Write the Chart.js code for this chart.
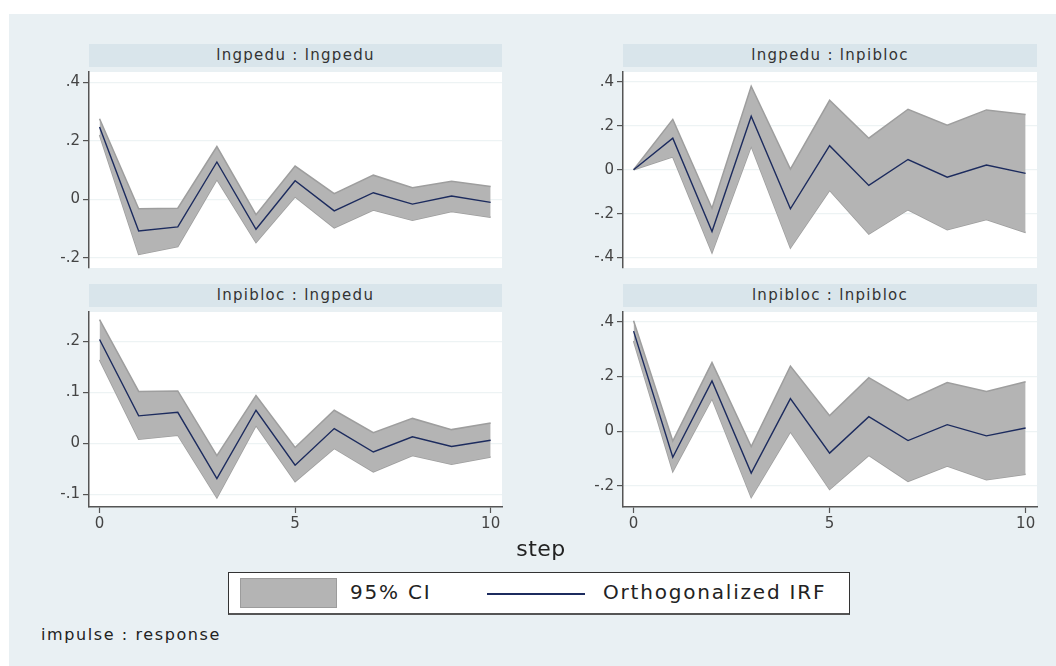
<!DOCTYPE html>
<html>
<head>
<meta charset="utf-8">
<script src="https://cdn.jsdelivr.net/npm/chart.js@4"></script>
<style>
  body { margin: 0; width: 1056px; height: 666px; background: #fff; position: relative; overflow: hidden;
         font-family: "DejaVu Sans", sans-serif; }
  #bg { position: absolute; left: 9px; top: 14px; right: 0; bottom: 0; background: #e9f0f3; }
  .band { position: absolute; height: 23px; background: #d9e5eb; color: #333; font-size: 15px;
          text-align: center; line-height: 23px; letter-spacing: 1.3px; }
  canvas { position: absolute; }
  #step { position: absolute; left: 0; width: 1082px; top: 536px; text-align: center; font-size: 22px;
          color: #222; letter-spacing: 0.5px; }
  #legend { position: absolute; left: 228px; top: 572px; width: 622px; height: 43px; background: #fff;
            border: 1px solid #333; border-bottom: 2px solid #555; box-sizing: border-box; }
  #legend .sw { position: absolute; left: 11px; top: 5px; width: 97px; height: 30px; background: #b4b4b4;
                border: 1px solid #9c9c9c; box-sizing: border-box; }
  #legend .ln { position: absolute; left: 258px; top: 20px; width: 98px; height: 2px; background: #1c2b5e; }
  #legend span { position: absolute; top: 7px; font-size: 20px; color: #222; letter-spacing: 1.8px; }
  #imp { position: absolute; left: 41px; top: 625px; font-size: 16px; color: #222; letter-spacing: 1.6px; }
</style>
</head>
<body>
<div id="bg"></div>

<div class="band" style="left:89px; top:44px; width:413px;">lngpedu : lngpedu</div>
<div class="band" style="left:623px; top:44px; width:414px;">lngpedu : lnpibloc</div>
<div class="band" style="left:89px; top:284px; width:413px;">lnpibloc : lngpedu</div>
<div class="band" style="left:623px; top:284px; width:414px;">lnpibloc : lnpibloc</div>

<canvas id="c1" style="left:0; top:60px;" width="520" height="220"></canvas>
<canvas id="c2" style="left:530px; top:60px;" width="520" height="220"></canvas>
<canvas id="c3" style="left:0; top:300px;" width="520" height="240"></canvas>
<canvas id="c4" style="left:530px; top:300px;" width="520" height="240"></canvas>

<div id="step">step</div>
<div id="legend">
  <div class="sw"></div>
  <span style="left:121px;">95% CI</span>
  <div class="ln"></div>
  <span style="left:374px;">Orthogonalized IRF</span>
</div>
<div id="imp">impulse : response</div>

<script>
const steps = [0, 1, 2, 3, 4, 5, 6, 7, 8, 9, 10];

// lngpedu : lngpedu
const irf1 = [0.248, -0.108, -0.094, 0.128, -0.102, 0.064, -0.039, 0.023, -0.016, 0.012, -0.010];
const up1  = [0.276, -0.032, -0.030, 0.181, -0.052, 0.114, 0.020, 0.083, 0.040, 0.062, 0.044];
const lo1  = [0.220, -0.188, -0.161, 0.068, -0.147, 0.009, -0.097, -0.036, -0.071, -0.041, -0.061];

// lngpedu : lnpibloc
const irf2 = [0.000, 0.144, -0.281, 0.244, -0.178, 0.110, -0.071, 0.047, -0.034, 0.022, -0.016];
const up2  = [0.000, 0.230, -0.175, 0.381, 0.003, 0.317, 0.144, 0.276, 0.203, 0.273, 0.252];
const lo2  = [0.000, 0.059, -0.378, 0.107, -0.356, -0.093, -0.293, -0.182, -0.273, -0.227, -0.286];

// lnpibloc : lngpedu
const irf3 = [0.204, 0.054, 0.061, -0.069, 0.065, -0.043, 0.029, -0.017, 0.013, -0.006, 0.006];
const up3  = [0.243, 0.102, 0.103, -0.024, 0.094, -0.008, 0.065, 0.021, 0.049, 0.027, 0.040];
const lo3  = [0.164, 0.008, 0.016, -0.107, 0.035, -0.075, -0.010, -0.056, -0.024, -0.041, -0.027];

// lnpibloc : lnpibloc
const irf4 = [0.366, -0.095, 0.184, -0.153, 0.119, -0.080, 0.053, -0.034, 0.024, -0.017, 0.012];
const up4  = [0.404, -0.036, 0.251, -0.056, 0.238, 0.057, 0.196, 0.113, 0.178, 0.145, 0.181];
const lo4  = [0.330, -0.147, 0.119, -0.242, -0.002, -0.213, -0.088, -0.183, -0.127, -0.177, -0.157];

const yTicks1 = [-0.2, 0, 0.2, 0.4];
const yTicks2 = [-0.4, -0.2, 0, 0.2, 0.4];
const yTicks3 = [-0.1, 0, 0.1, 0.2];
const yTicks4 = [-0.2, 0, 0.2, 0.4];
const xTicks = [0, 5, 10];

function fmt(v) {
    if (Math.abs(v) < 1e-9) return '0';
    let s = String(Math.round(v * 10) / 10);
    return s.replace('0.', '.');
}

function pts(arr) {
    return steps.map((s, i) => ({ x: s, y: arr[i] }));
}

function makeChart(id, irf, up, lo, yTicks, yMin, yMax, yWidth, rightPad, bottomRow) {
    const ctx = document.getElementById(id).getContext('2d');
    new Chart(ctx, {
        type: 'line',
        data: {
            datasets: [
                { data: pts(irf), borderColor: '#1c2b5e', borderWidth: 1.4, pointRadius: 0, fill: false, tension: 0 },
                { data: pts(up), borderColor: '#9e9e9e', borderWidth: 1.5, pointRadius: 0, fill: '+1',
                  backgroundColor: '#b4b4b4', tension: 0 },
                { data: pts(lo), borderColor: '#9e9e9e', borderWidth: 1.5, pointRadius: 0, fill: false, tension: 0 }
            ]
        },
        options: {
            responsive: false,
            animation: false,
            layout: { padding: { top: 7, right: rightPad, bottom: 0, left: 0 } },
            plugins: { legend: { display: false }, tooltip: { enabled: false } },
            scales: {
                x: {
                    type: 'linear',
                    min: -0.27,
                    max: 10.29,
                    afterBuildTicks: s => { s.ticks = xTicks.map(v => ({ value: v })); },
                    afterFit: s => { s.height = bottomRow ? 33 : 12; },
                    grid: { display: bottomRow, drawOnChartArea: false, tickLength: 6, tickColor: '#555', tickWidth: 1.2 },
                    border: { display: bottomRow, color: '#555', width: 1.5 },
                    ticks: { display: bottomRow, color: '#444', font: { size: 15, family: 'DejaVu Sans' },
                             padding: 2, maxRotation: 0 }
                },
                y: {
                    min: yMin,
                    max: yMax,
                    afterBuildTicks: s => { s.ticks = yTicks.map(v => ({ value: v })); },
                    afterFit: s => { s.width = yWidth; },
                    grid: { color: '#edf3f4', lineWidth: 1.2, tickLength: 6, tickColor: '#555', tickWidth: 1.2 },
                    border: { color: '#555', width: 1.5 },
                    ticks: { color: '#444', font: { size: 15, family: 'DejaVu Sans' }, padding: 3,
                             callback: v => fmt(v) }
                }
            }
        },
        plugins: [{
            id: 'whiteArea',
            beforeDraw(chart) {
                const a = chart.chartArea;
                chart.ctx.save();
                chart.ctx.fillStyle = '#ffffff';
                chart.ctx.fillRect(a.left, a.top, a.right - a.left, a.bottom - a.top);
                chart.ctx.restore();
            }
        }]
    });
}

makeChart('c1', irf1, up1, lo1, yTicks1, -0.2343, 0.4357, 89, 18, false);
makeChart('c2', irf2, up2, lo2, yTicks2, -0.4476, 0.4458, 93, 13, false);
makeChart('c3', irf3, up3, lo3, yTicks3, -0.125, 0.258, 89, 18, true);
makeChart('c4', irf4, up4, lo4, yTicks4, -0.277, 0.436, 93, 13, true);
</script>
</body>
</html>
